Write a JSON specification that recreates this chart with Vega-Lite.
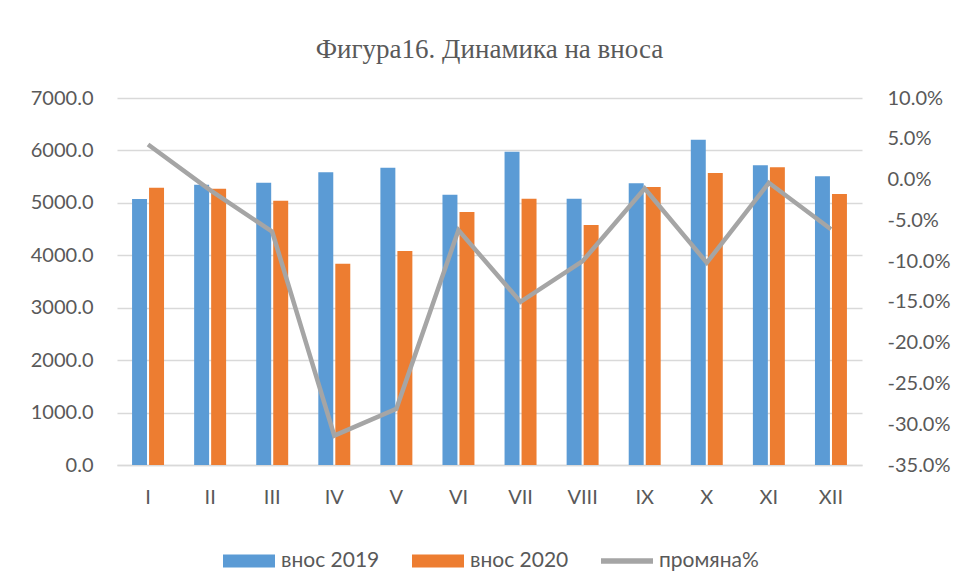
{
  "$schema": "https://vega.github.io/schema/vega-lite/v6.json",
  "width": 745,
  "height": 367,
  "autosize": {"type": "none"},
  "padding": {"left": 117, "top": 98, "right": 98, "bottom": 115},
  "background": "white",
  "title": {"text": "Фигура16. Динамика на вноса", "font": "Liberation Serif", "fontSize": 27, "fontWeight": "normal", "color": "#595959", "offset": 24},
  "datasets": {
    "bars": [
      {"month": "I", "series": "внос 2019", "value": 5073},
      {"month": "I", "series": "внос 2020", "value": 5290},
      {"month": "II", "series": "внос 2019", "value": 5347},
      {"month": "II", "series": "внос 2020", "value": 5270},
      {"month": "III", "series": "внос 2019", "value": 5385},
      {"month": "III", "series": "внос 2020", "value": 5041},
      {"month": "IV", "series": "внос 2019", "value": 5582},
      {"month": "IV", "series": "внос 2020", "value": 3838},
      {"month": "V", "series": "внос 2019", "value": 5672},
      {"month": "V", "series": "внос 2020", "value": 4080},
      {"month": "VI", "series": "внос 2019", "value": 5156},
      {"month": "VI", "series": "внос 2020", "value": 4825},
      {"month": "VII", "series": "внос 2019", "value": 5977},
      {"month": "VII", "series": "внос 2020", "value": 5080},
      {"month": "VIII", "series": "внос 2019", "value": 5080},
      {"month": "VIII", "series": "внос 2020", "value": 4577},
      {"month": "IX", "series": "внос 2019", "value": 5372},
      {"month": "IX", "series": "внос 2020", "value": 5302},
      {"month": "X", "series": "внос 2019", "value": 6206},
      {"month": "X", "series": "внос 2020", "value": 5570},
      {"month": "XI", "series": "внос 2019", "value": 5716},
      {"month": "XI", "series": "внос 2020", "value": 5678},
      {"month": "XII", "series": "внос 2019", "value": 5506},
      {"month": "XII", "series": "внос 2020", "value": 5169}
    ],
    "change": [
      {"month": "I", "pct": 0.043},
      {"month": "II", "pct": -0.013},
      {"month": "III", "pct": -0.064},
      {"month": "IV", "pct": -0.314},
      {"month": "V", "pct": -0.281},
      {"month": "VI", "pct": -0.062},
      {"month": "VII", "pct": -0.150},
      {"month": "VIII", "pct": -0.100},
      {"month": "IX", "pct": -0.011},
      {"month": "X", "pct": -0.102},
      {"month": "XI", "pct": -0.004},
      {"month": "XII", "pct": -0.061}
    ]
  },
  "config": {
    "view": {"stroke": null},
    "axis": {"labelFont": "Lato", "labelFontSize": 20, "labelColor": "#595959", "ticks": false, "title": null, "domain": false},
    "axisX": {"domain": true, "domainColor": "#D9D9D9", "domainWidth": 1.3, "labelPadding": 22, "labelAngle": 0, "grid": false}
  },
  "layer": [
    {
      "data": {"name": "bars"},
      "mark": {"type": "bar"},
      "encoding": {
        "x": {"field": "month", "type": "nominal", "sort": ["I","II","III","IV","V","VI","VII","VIII","IX","X","XI","XII"], "scale": {"paddingInner": 0.485, "paddingOuter": 0.2425}, "title": null},
        "xOffset": {"field": "series", "type": "nominal", "scale": {"paddingInner": 0.12}},
        "y": {"field": "value", "type": "quantitative", "scale": {"domain": [0, 7000]}, "axis": {"values": [0,1000,2000,3000,4000,5000,6000,7000], "format": ".1f", "grid": true, "gridColor": "#D9D9D9", "gridWidth": 1.3, "labelPadding": 24}},
        "color": {"field": "series", "type": "nominal", "scale": {"domain": ["внос 2019", "внос 2020", "промяна%"], "range": ["#5B9BD5", "#ED7D31", "#A5A5A5"]},
          "legend": {"orient": "none", "legendX": 106, "legendY": 437, "direction": "horizontal", "title": null, "labelFont": "Lato", "labelFontSize": 21, "labelColor": "#595959", "symbolType": "M-1,-0.25H1V0.25H-1Z", "symbolSize": 2704, "columnPadding": 32, "labelOffset": 6,
            "encoding": {"symbols": {"shape": {"condition": {"test": "datum.value === 'промяна%'", "value": "M-1,-0.105H1V0.105H-1Z"}, "value": "M-1,-0.25H1V0.25H-1Z"}, "strokeWidth": {"value": 0}, "opacity": {"value": 1}}}}}
      }
    },
    {
      "data": {"name": "change"},
      "mark": {"type": "line", "strokeWidth": 4.5},
      "encoding": {
        "x": {"field": "month", "type": "nominal", "sort": ["I","II","III","IV","V","VI","VII","VIII","IX","X","XI","XII"], "title": null},
        "y": {"field": "pct", "type": "quantitative", "scale": {"domain": [-0.35, 0.1]}, "axis": {"orient": "right", "values": [-0.35,-0.3,-0.25,-0.2,-0.15,-0.1,-0.05,0,0.05,0.1], "labelExpr": "replace(format(datum.value, '.1%'), '−', '-')", "grid": false, "labelPadding": 25}},
        "color": {"datum": "промяна%", "type": "nominal"}
      }
    }
  ],
  "resolve": {"scale": {"y": "independent"}}
}
